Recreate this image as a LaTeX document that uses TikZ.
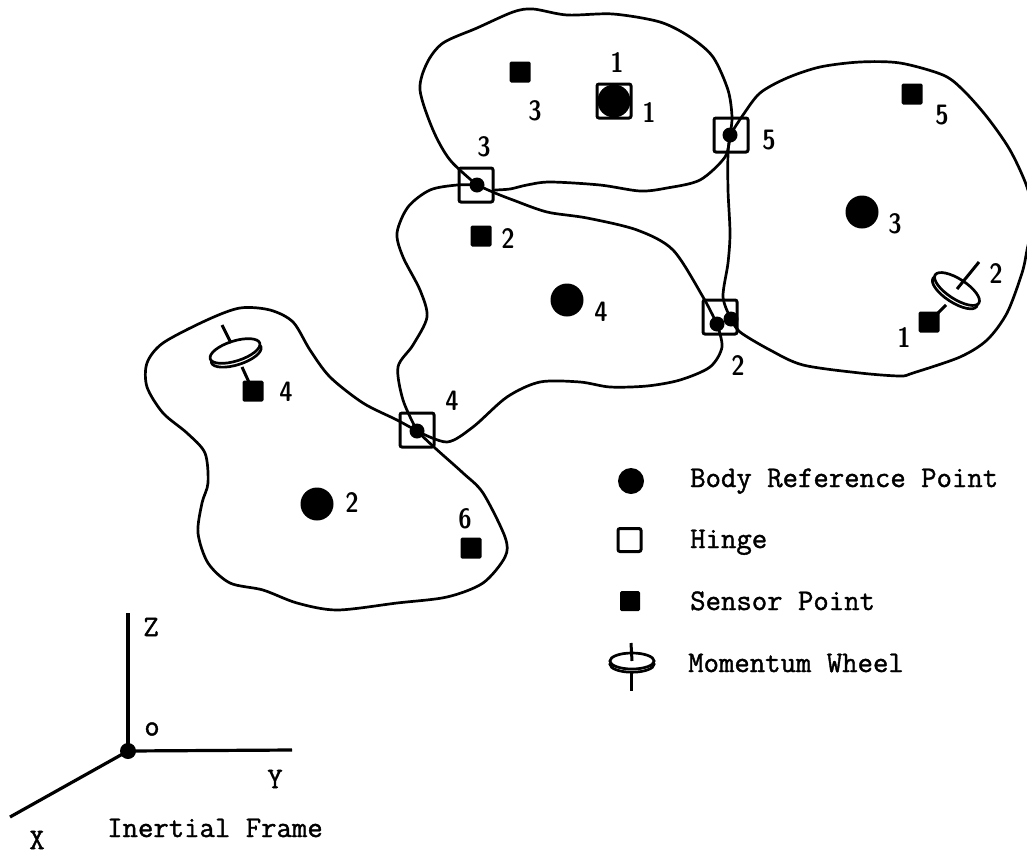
\documentclass[tikz,border=0pt]{standalone}
\usepackage{fontspec}
\newfontfamily\typefont{Latin Modern Mono}[FakeBold=1.3]
\tikzset{
  bodyline/.style={line width=2.7pt,line cap=round,line join=round},
  refpt/.style={circle,fill=black,draw=none,inner sep=0pt,minimum size=33pt},
  hingebox/.style={rectangle,draw=black,line width=3pt,rounded corners=2pt,inner sep=0pt,minimum size=34pt},
  jointdot/.style={circle,fill=black,draw=none,inner sep=0pt,minimum size=15pt},
  sensorpt/.style={rectangle,fill=black,draw=none,rounded corners=1.5pt,inner sep=0pt,minimum size=21pt},
  numlabel/.style={inner sep=0pt,font=\fontsize{28}{28}\selectfont\sffamily\fontseries{sbc}\selectfont},
  ttlabel/.style={inner sep=0pt,anchor=base west,font=\fontsize{29.9}{29.9}\selectfont\typefont},
  ttletter/.style={inner sep=0pt,font=\fontsize{29.9}{29.9}\selectfont\typefont},
  wheelline/.style={line width=3pt},
  axisline/.style={line width=3.2pt},
  wheel/.pic={
    \draw[line width=2.7pt,fill=white] (0,4) ellipse [x radius=26,y radius=10];
    \draw[line width=2.7pt,fill=white] (0,0) ellipse [x radius=26,y radius=10];
  }
}
\begin{document}
\begin{tikzpicture}[x=1pt,y=-1pt]
\useasboundingbox (0,0) rectangle (1027,854);
\fill[white] (0,0) rectangle (1027,854);
% joints
\node[jointdot] (d3) at (477,185) {};
\node[jointdot] (d5) at (730,135) {};
\node[jointdot] (d2a) at (717,324) {};
\node[jointdot] (d2b) at (731,319) {};
\node[jointdot] (d4) at (417,431) {};
\begin{scope}
\clip (0,0) rectangle (1027,854);
% body 1
\draw[bodyline] plot[smooth] coordinates {(d3.center) (450,160) (433,130) (420,90) (427,63) (443,43) (477,28) (513,12) (533,9) (567,15) (613,14) (660,22) (690,37) (713,57) (728,90) (732,117) (d5.center)};
\draw[bodyline] plot[smooth] coordinates {(d5.center) (725,157) (700,180) (667,188) (640,191) (600,185) (550,182) (527,185) (510,189) (495,190)};
% body 3
\draw[bodyline] plot[smooth] coordinates {(d5.center) (743,115) (760,93) (787,78) (820,67) (860,62) (900,63) (943,75) (963,90) (987,117) (1010,150) (1027,187) (1033,218) (1027,250) (1022,273) (1007,313) (987,340) (960,357) (913,373) (900,376) (860,373) (803,365) (770,350) (740,332) (d2b.center)};
\draw[bodyline] plot[smooth] coordinates {(d2b.center) (723,297) (728,263) (730,233) (728,190) (728,153) (d5.center)};
% body 4
\draw[bodyline] plot[smooth] coordinates {(d3.center) (457,185) (430,190) (408,207) (397,233) (403,257) (420,290) (427,317) (413,345) (398,367) (403,400) (d4.center)};
\draw[bodyline] plot[smooth] coordinates {(d4.center) (447,442) (473,427) (507,397) (540,382) (580,382) (610,387) (647,386) (680,380) (710,367) (722,347) (d2a.center)};
\draw[bodyline] plot[smooth] coordinates {(d2a.center) (703,297) (673,250) (637,230) (587,218) (547,212) (513,200) (495,193) (d3.center)};
% body 2
\draw[bodyline] plot[smooth] coordinates {(d4.center) (397,420) (363,403) (330,377) (310,350) (293,322) (270,310) (240,308) (207,320) (163,343) (147,363) (147,387) (163,413) (187,433) (205,453) (208,483) (202,503) (198,533) (208,563) (230,583) (263,590) (297,603) (337,610) (397,603) (447,597) (483,583) (505,557) (505,537) (483,493) (463,473) (435,448) (d4.center)};
\end{scope}
% hinges
\node[hingebox] (h3) at (476,185) {};
\node[hingebox] (h5) at (731,135) {};
\node[hingebox] (h2) at (720,317) {};
\node[hingebox] (h4) at (417,430) {};
\node[hingebox] (h1) at (614,101) {};
% reference points
\node[refpt] (r1) at (614,101) {};
\node[refpt] (r2) at (317,504) {};
\node[refpt] (r3) at (862,212) {};
\node[refpt] (r4) at (567,300) {};
% sensors
\node[sensorpt] (s1) at (929,322) {};
\node[sensorpt] (s2) at (481,236) {};
\node[sensorpt] (s3) at (520,72) {};
\node[sensorpt] (s4) at (253,391) {};
\node[sensorpt] (s5) at (912,94) {};
\node[sensorpt] (s6) at (471,548) {};
% wheels
\coordinate (w2top) at (979,262);
\coordinate (w2c) at (957,289);
\coordinate (w2low) at (946,305);
\coordinate (w1top) at (222,325);
\coordinate (w1c) at (235,351);
\coordinate (w1stop) at (231,343);
\coordinate (w1low) at (242,367);
\draw[wheelline] (w2low) -- (s1.center);
\draw[wheelline] (w1low) -- (s4.center);
\pic[rotate=-33] at (w2c) {wheel};
\pic[rotate=17.6] at (w1c) {wheel};
\draw[wheelline] (w2top) -- (w2c);
\draw[wheelline] (w1top) -- (w1stop);
% numbers
\node[numlabel] (n1) at (617,63) {1};
\node[numlabel] (n2) at (649,113) {1};
\node[numlabel] (n3) at (535,111) {3};
\node[numlabel] (n4) at (484,147) {3};
\node[numlabel] (n5) at (508,239) {2};
\node[numlabel] (n6) at (769,140) {5};
\node[numlabel] (n7) at (942,115) {5};
\node[numlabel] (n8) at (895,224) {3};
\node[numlabel] (n9) at (996,274) {2};
\node[numlabel] (n10) at (904,338) {1};
\node[numlabel] (n11) at (738,366) {2};
\node[numlabel] (n12) at (601,312) {4};
\node[numlabel] (n13) at (452,401) {4};
\node[numlabel] (n14) at (286,392) {4};
\node[numlabel] (n15) at (352,503) {2};
\node[numlabel] (n16) at (465,519) {6};
% legend
\node[refpt,minimum size=26pt] (lr) at (631,481) {};
\node[hingebox,minimum size=23pt] (lh) at (629.5,540) {};
\node[sensorpt,minimum size=20pt] (ls) at (630,601) {};
\coordinate (lwtop) at (631,643);
\coordinate (lwc) at (632,661);
\coordinate (lwlow) at (631,672);
\coordinate (lwend) at (631,691);
\draw[wheelline] (lwlow) -- (lwend);
\pic[xscale=.85,yscale=.8] at (lwc) {wheel};
\draw[wheelline] (lwtop) -- (lwc);
\node[ttlabel] (t1) at (690,487) {Body Reference Point};
\node[ttlabel] (t2) at (690,548) {Hinge};
\node[ttlabel] (t3) at (690,610) {Sensor Point};
\node[ttlabel] (t4) at (688,672) {Momentum Wheel};
% frame
\node[circle,fill=black,inner sep=0pt,minimum size=16pt] (o) at (128,751) {};
\coordinate (zend) at (128,613);
\coordinate (yend) at (292,750);
\coordinate (xend) at (10,817);
\draw[axisline] (o.center) -- (zend);
\draw[axisline] (o.center) -- (yend);
\draw[axisline] (o.center) -- (xend);
\node[ttletter] (lz) at (151,627) {Z};
\node[ttletter] (lo) at (152,729) {o};
\node[ttletter] (ly) at (275,779) {Y};
\node[ttletter] (lx) at (37,840) {X};
\node[ttlabel] (t5) at (107,837) {Inertial Frame};
\end{tikzpicture}
\end{document}
